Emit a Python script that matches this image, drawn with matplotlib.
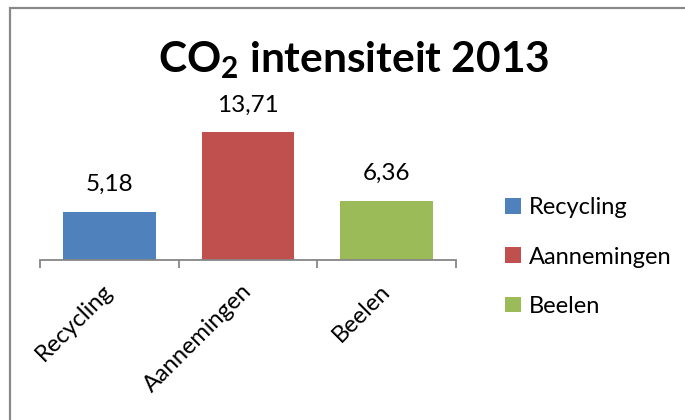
import matplotlib
matplotlib.use("Agg")
import matplotlib.pyplot as plt
from matplotlib.patches import Rectangle

categories = ["Recycling", "Aannemingen", "Beelen"]
values = [5.18, 13.71, 6.36]
value_labels = ["5,18", "13,71", "6,36"]
colors = ["#4F81BD", "#C0504D", "#9BBB59"]
title_text = r"CO$_\mathbf{2}$ intensiteit 2013"

plt.rcParams['font.family'] = ['Lato', 'DejaVu Sans']
plt.rcParams['mathtext.fontset'] = 'custom'
plt.rcParams['mathtext.rm'] = 'Lato'
plt.rcParams['mathtext.bf'] = 'Lato:bold'

W, H = 685, 420
fig = plt.figure(figsize=(W / 100, H / 100), dpi=100)
fig.patch.set_facecolor("white")

# outer frame (top & left visible, right/bottom cropped)
fig.patches.append(Rectangle((10 / W, -0.05), 1.2, (H - 8) / H + 0.05,
                             transform=fig.transFigure, fill=False,
                             edgecolor="#898989", linewidth=1.6))

ax = fig.add_axes([40 / W, (H - 260) / H, 416 / W, 149 / H])
x = list(range(len(categories)))
bars = ax.bar(x, values, width=0.67, color=colors, label=categories)
ax.set_xlim(-0.5, len(categories) - 0.5)
ax.set_ylim(0, 16)

for rect, lab in zip(bars, value_labels):
    ax.annotate(lab, (rect.get_x() + rect.get_width() / 2, rect.get_height()),
                xytext=(0, 12), textcoords="offset points",
                ha="center", va="bottom", fontsize=17.5, color="#000000")

for s in ["top", "right", "left"]:
    ax.spines[s].set_visible(False)
ax.spines["bottom"].set_color("#868686")
ax.spines["bottom"].set_linewidth(1.3)
ax.set_yticks([])
ax.set_xticks([i - 0.5 for i in range(len(categories) + 1)])
ax.set_xticklabels([])
ax.tick_params(axis="x", which="major", length=6, color="#868686", width=1.3)
ax.set_xticks(x, minor=True)
ax.set_xticklabels(categories, minor=True, rotation=45, ha="right",
                   va="center", rotation_mode="anchor", fontsize=17)
ax.tick_params(axis="x", which="minor", length=0, pad=20)

fig.text(354 / W, 1 - 60 / H, title_text, ha="center", va="center",
         fontsize=30.5, fontweight="bold")

handles = list(bars)
fig.legend(handles, categories, loc="center left",
           bbox_to_anchor=(496 / W, 1 - 257 / H), frameon=False,
           fontsize=17, handlelength=0.65, handleheight=0.65,
           handletextpad=0.35, labelspacing=1.2, borderaxespad=0)

fig.savefig("out.png", dpi=100, facecolor="white")
